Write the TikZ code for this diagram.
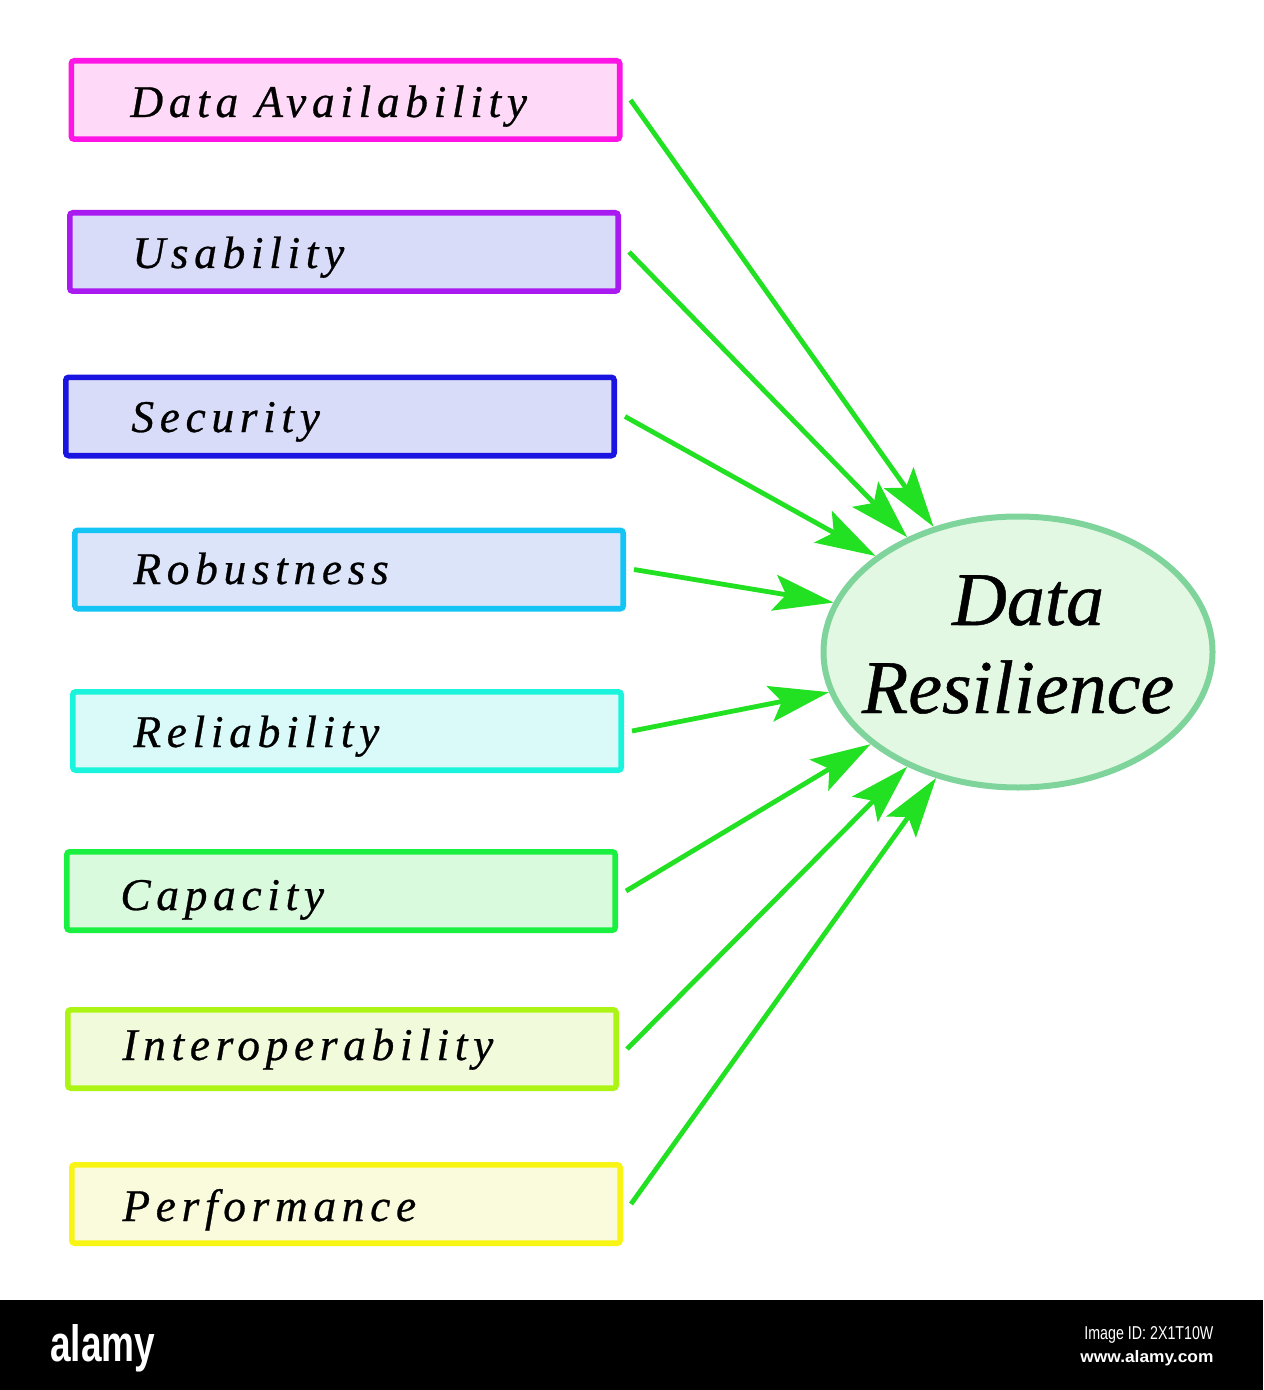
\documentclass[tikz,border=0pt]{standalone}
\usepackage{fontspec}
\setmainfont{Liberation Serif}
\newfontfamily\lblfont{Liberation Serif}[LetterSpace=12.5,FakeBold=0.6]
\newfontfamily\ellfont{Liberation Serif}[FakeBold=0.6]
\newfontfamily\wmfont{Liberation Sans}
\usetikzlibrary{arrows.meta,shapes.geometric}
\definecolor{bA}{HTML}{FF14E6}\definecolor{fA}{HTML}{FFD9F8}
\definecolor{bB}{HTML}{A81AEF}\definecolor{fB}{HTML}{D9DCF8}
\definecolor{bC}{HTML}{1A14E0}\definecolor{fC}{HTML}{D9DCF8}
\definecolor{bD}{HTML}{14C4F4}\definecolor{fD}{HTML}{DCE4FA}
\definecolor{bE}{HTML}{1AF4DC}\definecolor{fE}{HTML}{D9FAF8}
\definecolor{bF}{HTML}{1AF040}\definecolor{fF}{HTML}{D9FADC}
\definecolor{bG}{HTML}{ACF414}\definecolor{fG}{HTML}{F2FADC}
\definecolor{bH}{HTML}{F8F414}\definecolor{fH}{HTML}{FAFADC}
\definecolor{ellborder}{HTML}{7FD49C}
\definecolor{ellfill}{HTML}{E2F8E2}
\definecolor{arrowgreen}{HTML}{22E022}
\begin{document}
\begin{tikzpicture}[x=0.5pt,y=-0.5pt,
  box/.style={draw, line width=2.8pt, rounded corners=1.5pt, minimum width=274.2pt, minimum height=39.2pt, inner sep=0pt},
  lbl/.style={anchor=base west, inner sep=0pt, text=black, font=\lblfont\itshape\fontsize{22.7}{27}\selectfont},
  etxt/.style={anchor=base, inner sep=0pt, text=black, font=\ellfont\itshape\fontsize{38}{44}\selectfont},
  link/.style={draw=arrowgreen, line width=2.4pt, -{Stealth[length=30pt,width=18pt,inset=6pt]}},
  wm/.style={anchor=base west, inner sep=0pt, text=white}]
\useasboundingbox (0,0) rectangle (1263,1390);
\fill[white] (0,0) rectangle (1263,1300);
\fill[black] (0,1300) rectangle (1263,1390);

\node[box, draw=bA, fill=fA] (b1) at (345.5,100) {};
\node[box, draw=bB, fill=fB] (b2) at (344,252) {};
\node[box, draw=bC, fill=fC] (b3) at (340,416.5) {};
\node[box, draw=bD, fill=fD] (b4) at (349,569.5) {};
\node[box, draw=bE, fill=fE] (b5) at (347,731) {};
\node[box, draw=bF, fill=fF] (b6) at (341,891) {};
\node[box, draw=bG, fill=fG] (b7) at (342,1049) {};
\node[box, draw=bH, fill=fH] (b8) at (346,1204) {};

\node[lbl] (t1) at (130,117) {Data Availability};
\node[lbl] (t2) at (132,268) {Usability};
\node[lbl] (t3) at (131,432) {Security};
\node[lbl] (t4) at (133,584) {Robustness};
\node[lbl] (t5) at (133,747) {Reliability};
\node[lbl] (t6) at (120,910) {Capacity};
\node[lbl] (t7) at (122,1060) {Interoperability};
\node[lbl] (t8) at (122,1221) {Performance};

\node[ellipse, draw=ellborder, fill=ellfill, line width=3pt, minimum width=194.5pt, minimum height=135.5pt, inner sep=0pt] (e) at (1018,652) {};
\node[etxt] (e1) at (1028,625) {Data};
\node[etxt] (e2) at (1018,713) {Resilience};

\draw[link] ([xshift=4pt]b1.east) -- (e.124.9);
\draw[link] ([xshift=4pt]b2.east) -- (e.134.2);
\draw[link] ([xshift=4pt]b3.east) -- (e.146.9);
\draw[link] ([xshift=4pt]b4.east) -- (e.165.8);
\draw[link] ([xshift=4pt]b5.east) -- (e.192.7);
\draw[link] ([xshift=4pt]b6.east) -- (e.212.1);
\draw[link] ([xshift=4pt]b7.east) -- (e.226.7);
\draw[link] ([xshift=4pt]b8.east) -- (e.237.2);

\node[wm] (w1) at (50,1361) {\resizebox{52.5pt}{18.5pt}{\wmfont\bfseries alamy}};
\node[wm] (w2) at (1084,1339) {\resizebox{64.5pt}{6.5pt}{\wmfont Image ID: 2X1T10W}};
\node[wm] (w3) at (1080,1362) {\resizebox{66.5pt}{6pt}{\wmfont\bfseries www.alamy.com}};
\end{tikzpicture}
\end{document}
